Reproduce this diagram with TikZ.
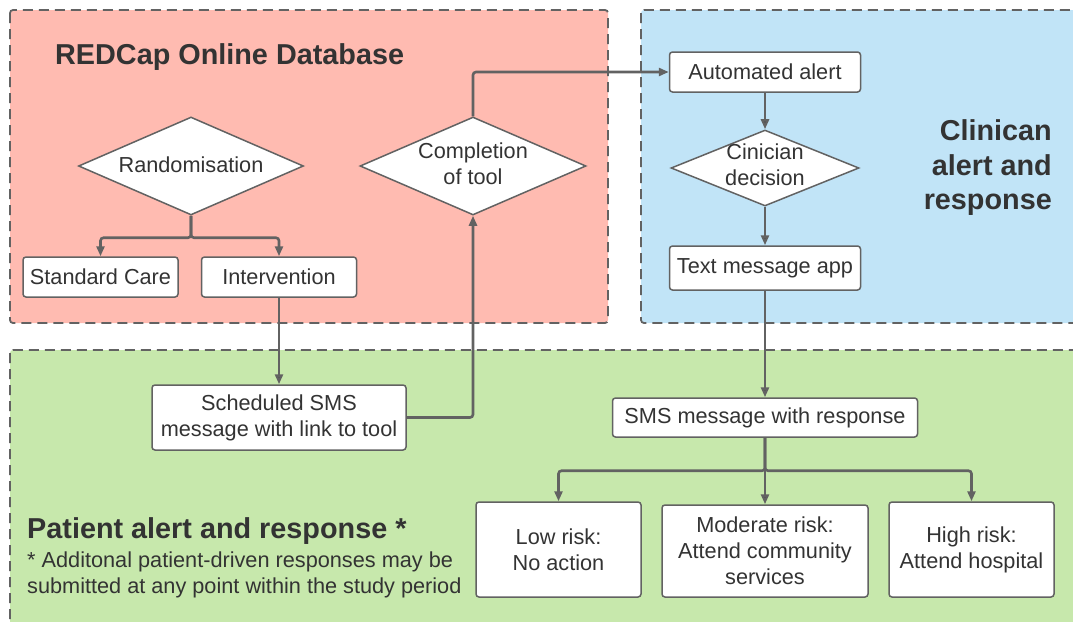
\documentclass[tikz,border=0pt]{standalone}
\usepackage{fontspec}
\setmainfont{Liberation Sans}
\usepackage{tikz}
\usetikzlibrary{shapes.geometric,arrows.meta}
\definecolor{redArea}{HTML}{FFBBB1}
\definecolor{blueArea}{HTML}{C1E4F7}
\definecolor{greenArea}{HTML}{C7E8AC}
\definecolor{lineGrey}{HTML}{626262}
\definecolor{textGrey}{HTML}{333333}
\begin{document}
\begin{tikzpicture}[x=1pt, y=-1pt,
        every node/.style={text=textGrey, font=\fontsize{21.7}{26}\selectfont}]
        \tikzstyle{areaStyle} = [draw=lineGrey, line width=1.8pt, dash pattern=on 10pt off 6pt, rounded corners=3pt]
        \tikzstyle{boxStyle} = [rectangle, rounded corners=3pt, draw=lineGrey, fill=white, line width=1.5pt, align=center, inner sep=0pt]
        \tikzstyle{decisionStyle} = [diamond, draw=lineGrey, fill=white, line width=1.5pt, inner sep=0pt]
        \tikzstyle{titleStyle} = [font=\bfseries\fontsize{28.8}{34.5}\selectfont]
        \tikzstyle{flowEdge} = [draw=lineGrey, line width=2.6pt, rounded corners=3pt, -{Triangle[length=10pt,width=8pt]}]
        \useasboundingbox (0,0) rectangle (1073,621);
        % areas
        \path[areaStyle, fill=redArea] (10,10) rectangle (608,323);
        \path[areaStyle, fill=blueArea] (641,10) rectangle (1090,323);
        \path[areaStyle, fill=greenArea] (10,350) rectangle (1090,640);
        \node[titleStyle, anchor=west, inner sep=0pt] (dbTitle) at (55,57) {REDCap Online Database};
        \node[titleStyle, anchor=east, align=right, inner sep=0pt] (clinTitle) at (1052,168) {Clinican\\alert and\\response};
        \node[titleStyle, anchor=west, inner sep=0pt] (patTitle) at (27,531) {Patient alert and response *};
        \node[anchor=west, align=left, inner sep=0pt] (patNote) at (27,575) {* Additonal patient-driven responses may be\\submitted at any point within the study period};
        % nodes
        \node[decisionStyle, minimum width=225pt, minimum height=98pt] (rand) at (191,166) {};
        \node (randText) at (191,165) {Randomisation};
        \node[decisionStyle, minimum width=226pt, minimum height=98pt] (comp) at (473,166) {};
        \node[align=center] (compText) at (473,164) {Completion\\of tool};
        \node[boxStyle, minimum width=155pt, minimum height=40pt] (std) at (100.5,277) {Standard Care};
        \node[boxStyle, minimum width=155pt, minimum height=40pt] (int) at (279,277) {Intervention};
        \node[boxStyle, minimum width=191pt, minimum height=40pt] (auto) at (765,72) {Automated alert};
        \node[decisionStyle, minimum width=188pt, minimum height=76pt] (cin) at (765,168) {};
        \node[align=center] (cinText) at (765,165) {Cinician\\decision};
        \node[boxStyle, minimum width=191pt, minimum height=44pt] (app) at (765,268) {Text message app};
        \node[boxStyle, minimum width=254pt, minimum height=65pt] (sched) at (279,417.5) {Scheduled SMS\\message with link to tool};
        \node[boxStyle, minimum width=305pt, minimum height=39pt] (resp) at (765,417.5) {SMS message with response};
        \node[boxStyle, minimum width=165pt, minimum height=95pt] (low) at (558.5,549.5) {Low risk:\\No action};
        \node[boxStyle, minimum width=206pt, minimum height=92pt] (mod) at (765,551) {Moderate risk:\\Attend community\\services};
        \node[boxStyle, minimum width=165pt, minimum height=95pt] (high) at (971.5,549.5) {High risk:\\Attend hospital};
        % connectors
        \foreach \from/\to in {int/sched, auto/cin, cin/app, app/resp, resp/mod}
            \path[flowEdge] (\from) edge (\to);
        \foreach \to in {std, int}
            \draw[flowEdge] (rand.south) -- ++(0,22) -| (\to.north);
        \foreach \to in {low, high}
            \draw[flowEdge] (resp.south) -- ++(0,33) -| (\to.north);
        \draw[flowEdge] (sched.east) -| (comp.south);
        \draw[flowEdge] (comp.north) |- (auto.west);
    \end{tikzpicture}
\end{document}
